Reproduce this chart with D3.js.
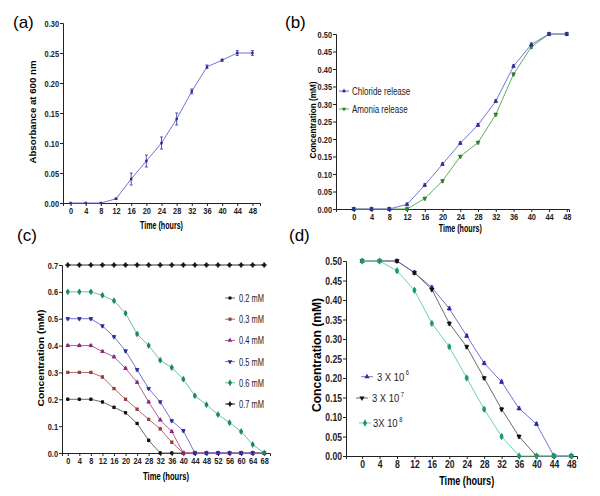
<!DOCTYPE html>
<html>
<head>
<meta charset="utf-8">
<script src="https://cdn.jsdelivr.net/npm/d3@7"></script>
<style>
  body { margin: 0; background: #fff; }
  svg { display: block; }
  text { font-family: "Liberation Sans", Arial, sans-serif; }
  .tk text { font-weight: bold; font-size: 9.5px; fill: #222; }
  .tk path, .tk line { stroke: #222; stroke-width: 1; }
</style>
</head>
<body>
<div id="chart"></div>
<script>
// panel (a) - growth
const hoursA = [0, 4, 8, 12, 16, 20, 24, 28, 32, 36, 40, 44, 48];
const absorbance = [0, 0, 0, 0.007, 0.04, 0.07, 0.10, 0.14, 0.186, 0.227, 0.238, 0.25, 0.25];
const absorbanceErr = [0, 0, 0, 0.001, 0.01, 0.01, 0.01, 0.01, 0.004, 0.003, 0.002, 0.004, 0.004];

// panel (b) - release
const hoursB = [0, 4, 8, 12, 16, 20, 24, 28, 32, 36, 40, 44, 48];
const chloride = [0, 0, 0, 0.013, 0.068, 0.128, 0.188, 0.24, 0.308, 0.408, 0.47, 0.50, 0.50];
const amonia = [0, 0, 0, 0, 0.03, 0.08, 0.15, 0.19, 0.27, 0.385, 0.463, 0.50, 0.50];
const legendB = ["Chloride release", "Amonia release"];

// panel (c) - initial concentrations
const hoursC = [0, 4, 8, 12, 16, 20, 24, 28, 32, 36, 40, 44, 48, 52, 56, 60, 64, 68];
const c02 = [0.2, 0.2, 0.2, 0.19, 0.17, 0.15, 0.11, 0.047, 0, 0, 0, 0, 0, 0, 0, 0, 0, 0];
const c03 = [0.3, 0.3, 0.3, 0.283, 0.24, 0.2, 0.163, 0.125, 0.09, 0.04, 0, 0, 0, 0, 0, 0, 0, 0];
const c04 = [0.4, 0.4, 0.4, 0.378, 0.358, 0.315, 0.263, 0.19, 0.123, 0.08, 0, 0, 0, 0, 0, 0, 0, 0];
const c05 = [0.5, 0.5, 0.5, 0.473, 0.433, 0.38, 0.31, 0.24, 0.19, 0.12, 0.083, 0, 0, 0, 0, 0, 0, 0];
const c06 = [0.6, 0.6, 0.6, 0.587, 0.567, 0.52, 0.443, 0.4, 0.345, 0.318, 0.275, 0.213, 0.18, 0.143, 0.113, 0.08, 0.032, 0];
const c07 = [0.7, 0.7, 0.7, 0.7, 0.7, 0.7, 0.7, 0.7, 0.7, 0.7, 0.7, 0.7, 0.7, 0.7, 0.7, 0.7, 0.7, 0.7];
const legendC = ["0.2 mM", "0.3 mM", "0.4 mM", "0.5 mM", "0.6 mM", "0.7 mM"];

// panel (d) - inoculum size
const hoursD = [0, 4, 8, 12, 16, 20, 24, 28, 32, 36, 40, 44, 48];
const inoc6 = [0.5, 0.5, 0.5, 0.47, 0.432, 0.378, 0.308, 0.238, 0.19, 0.122, 0.082, 0, 0];
const inoc7 = [0.5, 0.5, 0.5, 0.47, 0.427, 0.34, 0.28, 0.2, 0.12, 0.05, 0, 0, 0];
const inoc8 = [0.5, 0.5, 0.475, 0.425, 0.34, 0.28, 0.2, 0.12, 0.05, 0, 0, 0, 0];
const legendD = [["3 X 10", "6"], ["3 X 10", "7"], ["3X 10", "8"]];

const svg = d3.select("#chart").append("svg").attr("width", 600).attr("height", 496);

// resserre le texte (pas de police étroite installée)
function squeeze(sel, r) {
    sel.each(function () {
        const w = this.getComputedTextLength();
        this.setAttribute("textLength", w * r);
        this.setAttribute("lengthAdjust", "spacingAndGlyphs");
    });
}
function fitTo(sel, px) {
    sel.attr("textLength", px).attr("lengthAdjust", "spacingAndGlyphs");
}

function symbolFor(name) {
    return {circle: d3.symbolCircle, square: d3.symbolSquare, up: d3.symbolTriangle,
            down: d3.symbolTriangle, diamond: d3.symbolDiamond, cross: d3.symbolCross}[name];
}

function drawSeries(g, x, y, xs, ys, s) {
    const pts = xs.map((h, i) => ({h: h, v: ys[i], e: s.err ? s.err[i] : 0.004}));
    g.append("path")
        .attr("d", d3.line().x(d => x(d.h)).y(d => y(d.v))(pts))
        .attr("fill", "none").attr("stroke", s.line).attr("stroke-width", 1);
    // petites barres d'erreur
    const eb = g.append("g").attr("stroke", s.mark).attr("stroke-width", 0.8);
    pts.filter(d => d.e > 0).forEach(d => {
        eb.append("line").attr("x1", x(d.h)).attr("x2", x(d.h)).attr("y1", y(d.v - d.e)).attr("y2", y(d.v + d.e));
        eb.append("line").attr("x1", x(d.h) - 1.5).attr("x2", x(d.h) + 1.5).attr("y1", y(d.v - d.e)).attr("y2", y(d.v - d.e));
        eb.append("line").attr("x1", x(d.h) - 1.5).attr("x2", x(d.h) + 1.5).attr("y1", y(d.v + d.e)).attr("y2", y(d.v + d.e));
    });
    g.selectAll(null).data(pts).enter().append("path")
        .attr("d", d3.symbol().type(symbolFor(s.shape)).size(s.size || 12))
        .attr("transform", d => `translate(${x(d.h)},${y(d.v)})` + (s.shape === "down" ? " rotate(180)" : ""))
        .attr("fill", s.mark);
}

function drawAxes(p) {
    const gx = svg.append("g").attr("class", "tk").attr("transform", `translate(0,${p.y.range()[0]})`)
        .call(d3.axisBottom(p.x).tickValues(p.xticks).tickSizeOuter(0).tickSize(3).tickPadding(1));
    const gy = svg.append("g").attr("class", "tk").attr("transform", `translate(${p.x.range()[0]},0)`)
        .call(d3.axisLeft(p.y).tickValues(p.yticks).tickFormat(d3.format(p.yfmt)).tickSizeOuter(0).tickSize(3).tickPadding(1));
    if (p.big) {
        gx.selectAll("text").style("font-size", "11px");
        gy.selectAll("text").style("font-size", "11px");
    }
    squeeze(gx.selectAll("text"), 0.78);
    squeeze(gy.selectAll("text"), 0.78);
    const xt = svg.append("text")
        .attr("x", (p.x(p.xticks[0]) + p.x(p.xticks[p.xticks.length - 1])) / 2).attr("y", p.xtitleY)
        .attr("text-anchor", "middle")
        .style("font-weight", "bold").style("font-size", p.big ? "13px" : "10.5px")
        .text("Time (hours)");
    fitTo(xt, p.xtitleW);
    const yt = svg.append("text").attr("transform", `translate(${p.ytitleX},${p.ytitleY}) rotate(-90)`)
        .attr("text-anchor", "middle")
        .style("font-weight", "bold")
        .style("font-size", p.ytsize)
        .text(p.ytitle);
    fitTo(yt, p.ytitleW);
    svg.append("text").attr("x", p.tagX).attr("y", p.tagY)
        .style("font-size", "17px")
        .text(p.tag);
}

const ticks4 = d3.range(0, 49, 4);

// (a)
const xa = d3.scaleLinear().domain([-2, 50]).range([63, 260]);
const ya = d3.scaleLinear().domain([0, 0.3]).range([203, 23]);
drawAxes({x: xa, y: ya, xticks: ticks4, yticks: d3.range(0, 0.301, 0.05), yfmt: ".2f", ytsize: "9px",
    xtitleY: 229, xtitleW: 43, ytitle: "Absorbance at 600 nm", ytitleW: 103, ytitleX: 36, ytitleY: 112,
    tag: "(a)", tagX: 13, tagY: 28});
drawSeries(svg.append("g"), xa, ya, hoursA, absorbance,
    {line: "#7474d4", mark: "#2c2c9a", shape: "square", size: 6, err: absorbanceErr});

// (b)
const xb = d3.scaleLinear().domain([-4, 48.5]).range([336, 569]);
const yb = d3.scaleLinear().domain([0, 0.5]).range([209, 34]);
drawAxes({x: xb, y: yb, xticks: ticks4, yticks: d3.range(0, 0.501, 0.05), yfmt: ".2f", ytsize: "8.5px",
    xtitleY: 232, xtitleW: 43, ytitle: "Concentration (mM)", ytitleW: 77, ytitleX: 316, ytitleY: 120,
    tag: "(b)", tagX: 285, tagY: 28});
const stylesB = [
    {line: "#7474d4", mark: "#2c2c9a", shape: "up", size: 10},
    {line: "#5fae5f", mark: "#2f7d2f", shape: "down", size: 10}
];
drawSeries(svg.append("g"), xb, yb, hoursB, amonia, stylesB[1]);
drawSeries(svg.append("g"), xb, yb, hoursB, chloride, stylesB[0]);
legendB.forEach((name, i) => {
    const ly = 91 + i * 18;
    svg.append("line").attr("x1", 339).attr("x2", 349).attr("y1", ly).attr("y2", ly).attr("stroke", stylesB[i].line);
    svg.append("path").attr("d", d3.symbol().type(symbolFor(stylesB[i].shape)).size(8))
        .attr("transform", `translate(344,${ly})` + (stylesB[i].shape === "down" ? " rotate(180)" : "")).attr("fill", stylesB[i].mark);
    const t = svg.append("text").attr("x", 352).attr("y", ly + 3.5)
        .style("font-size", "10px").style("fill", "#222")
        .text(name);
    squeeze(t, 0.8);
});

// (c)
const xc = d3.scaleLinear().domain([-2, 70]).range([62, 270]);
const yc = d3.scaleLinear().domain([0, 0.7]).range([453, 265]);
drawAxes({x: xc, y: yc, xticks: d3.range(0, 69, 4), yticks: d3.range(0, 0.701, 0.1), yfmt: ".1f", ytsize: "9.5px",
    xtitleY: 480, xtitleW: 46, ytitle: "Concentration (mM)", ytitleW: 97, ytitleX: 44, ytitleY: 358,
    tag: "(c)", tagX: 17, tagY: 241});
const seriesC = [c02, c03, c04, c05, c06, c07];
const stylesC = [
    {line: "#6a6a6a", mark: "#111", shape: "circle", size: 10},
    {line: "#b36a6a", mark: "#9a3b3b", shape: "square", size: 10},
    {line: "#b060a0", mark: "#8a2a78", shape: "up", size: 10},
    {line: "#7474d4", mark: "#2c2c9a", shape: "down", size: 10},
    {line: "#6cc49a", mark: "#1d8a5a", shape: "diamond", size: 14},
    {line: "#333", mark: "#111", shape: "cross", size: 14}
];
seriesC.forEach((vals, i) => drawSeries(svg.append("g"), xc, yc, hoursC, vals, stylesC[i]));
legendC.forEach((name, i) => {
    const ly = 298 + i * 21.2;
    svg.append("line").attr("x1", 225).attr("x2", 235).attr("y1", ly).attr("y2", ly).attr("stroke", stylesC[i].line);
    svg.append("path").attr("d", d3.symbol().type(symbolFor(stylesC[i].shape)).size(stylesC[i].size))
        .attr("transform", `translate(230,${ly})` + (stylesC[i].shape === "down" ? " rotate(180)" : "")).attr("fill", stylesC[i].mark);
    const t = svg.append("text").attr("x", 239).attr("y", ly + 4)
        .style("font-size", "11px").style("fill", "#222")
        .text(name);
    fitTo(t, 25);
});

// (d)
const xd = d3.scaleLinear().domain([-3.7, 49.3]).range([346, 577]);
const yd = d3.scaleLinear().domain([0, 0.5]).range([456, 261]);
drawAxes({x: xd, y: yd, xticks: ticks4, yticks: d3.range(0, 0.501, 0.05), yfmt: ".2f", big: true, ytsize: "13px",
    xtitleY: 485, xtitleW: 55, ytitle: "Concentration (mM)", ytitleW: 114, ytitleX: 321, ytitleY: 355,
    tag: "(d)", tagX: 289, tagY: 241});
const seriesD = [inoc6, inoc7, inoc8];
const stylesD = [
    {line: "#7474d4", mark: "#2c2c9a", shape: "up", size: 12},
    {line: "#6a6a6a", mark: "#111", shape: "down", size: 12},
    {line: "#6fd0b0", mark: "#1d9a6a", shape: "diamond", size: 16}
];
seriesD.forEach((vals, i) => drawSeries(svg.append("g"), xd, yd, hoursD, vals, stylesD[i]));
const legPosD = [[367, 377, 376.7], [362, 372, 398], [365, 373, 423]];
legendD.forEach((name, i) => {
    const [mx, tx, ly] = legPosD[i];
    svg.append("line").attr("x1", mx - 6).attr("x2", mx + 6).attr("y1", ly).attr("y2", ly).attr("stroke", stylesD[i].line);
    svg.append("path").attr("d", d3.symbol().type(symbolFor(stylesD[i].shape)).size(stylesD[i].size))
        .attr("transform", `translate(${mx},${ly})` + (stylesD[i].shape === "down" ? " rotate(180)" : "")).attr("fill", stylesD[i].mark);
    // texte étroit par mise à l'échelle, exposant à part
    const g = svg.append("g").attr("transform", `translate(${tx},${ly}) scale(0.82,1)`);
    const t = g.append("text").attr("x", 0).attr("y", 4)
        .style("font-size", "11.5px").style("fill", "#222").text(name[0]);
    const w = t.node().getComputedTextLength();
    g.append("text").attr("x", w + 2).attr("y", -1.5)
        .style("font-size", "7px").style("fill", "#222").text(name[1]);
});
</script>
</body>
</html>
